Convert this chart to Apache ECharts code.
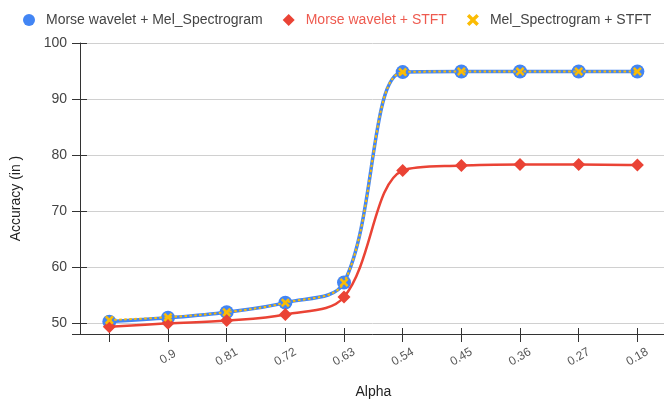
<!DOCTYPE html>
<html>
<head>
<meta charset="utf-8">
<script src="https://cdn.jsdelivr.net/npm/echarts@6/dist/echarts.min.js"></script>
<style>
  html, body { margin: 0; padding: 0; background: #fff; }
  #chart { width: 664px; height: 400px; }
</style>
</head>
<body>
<div id="chart"></div>
<script>
// Alpha values on the x axis (first position has no label)
const alphaLabels = ['', '0.9', '0.81', '0.72', '0.63', '0.54', '0.45', '0.36', '0.27', '0.18'];

// Accuracy for each feature combination
const morseMel  = [50.2, 50.9, 51.9, 53.6, 57.2, 94.8, 94.9, 94.9, 94.9, 94.9];
const morseStft = [49.3, 49.9, 50.4, 51.5, 54.6, 77.2, 78.1, 78.3, 78.3, 78.2];
const melStft   = [50.5, 51.0, 51.9, 53.6, 57.2, 94.8, 94.9, 94.9, 94.9, 94.9];

const seriesNames = ['Morse wavelet + Mel_Spectrogram', 'Morse wavelet + STFT', 'Mel_Spectrogram + STFT'];

const BLUE = '#4285F4', RED = '#EA4335', ORANGE = '#FBBC04';
const crossPath = 'path://M0,2L2,0L5,3L8,0L10,2L7,5L10,8L8,10L5,7L2,10L0,8L3,5Z';
const diamondPath = 'path://M5,0L10,5L5,10L0,5Z';
const FONT = 'Arial, "Liberation Sans", sans-serif';
const AXIS_COLOR = '#333';
const SMOOTH = 0.35;

const chart = echarts.init(document.getElementById('chart'), null, { renderer: 'canvas' });

chart.setOption({
  animation: false,
  textStyle: { fontFamily: FONT },
  legend: {
    left: 18,
    top: 8,
    itemGap: 20,
    itemWidth: 24,
    itemHeight: 12,
    textStyle: { fontSize: 14, color: '#444', fontFamily: FONT },
    data: [
      { name: seriesNames[0], icon: 'circle' },
      { name: seriesNames[1], icon: diamondPath, textStyle: { color: '#EE5A4F' } },
      { name: seriesNames[2], icon: crossPath }
    ]
  },
  grid: { left: 80, top: 43, width: 586.7, bottom: 66, containLabel: false, outerBoundsMode: 'none' },
  xAxis: [
    {
      type: 'category',
      data: alphaLabels,
      boundaryGap: true,
      position: 'bottom',
      name: 'Alpha',
      nameLocation: 'middle',
      nameGap: 51,
      nameTextStyle: { fontSize: 14, color: '#222', fontFamily: FONT },
      axisLine: { show: true, lineStyle: { color: AXIS_COLOR, width: 1 } },
      axisTick: { show: true, alignWithLabel: true, interval: 0, length: 8, lineStyle: { color: AXIS_COLOR } },
      axisLabel: {
        rotate: 30,
        align: 'center',
        verticalAlign: 'middle',
        margin: 23,
        fontSize: 12,
        color: '#555',
        fontFamily: FONT,
        interval: 0
      },
      splitLine: { show: false }
    },
    {
      // inner half of the x ticks, so they cross the axis line
      type: 'category',
      data: alphaLabels,
      boundaryGap: true,
      position: 'bottom',
      axisLine: { show: false },
      axisTick: { show: true, inside: true, alignWithLabel: true, interval: 0, length: 6, lineStyle: { color: AXIS_COLOR } },
      axisLabel: { show: false },
      splitLine: { show: false }
    }
  ],
  yAxis: [
    {
      type: 'value',
      min: 48,
      max: 100,
      splitNumber: 5,
      position: 'left',
      name: 'Accuracy (in )',
      nameLocation: 'middle',
      nameGap: 57,
      nameTextStyle: { fontSize: 14, color: '#222', fontFamily: FONT, padding: [0, 20, 0, 0] },
      axisLine: { show: true, lineStyle: { color: AXIS_COLOR, width: 1 } },
      axisTick: { show: true, length: 8, lineStyle: { color: AXIS_COLOR } },
      axisLabel: {
        margin: 13,
        fontSize: 14,
        color: '#444',
        fontFamily: FONT,
        formatter: v => (v % 10 === 0 ? String(v) : '')
      },
      splitLine: { show: true, lineStyle: { color: '#d0d0d0', width: 1 } }
    },
    {
      // inner half of the y ticks
      type: 'value',
      min: 48,
      max: 100,
      splitNumber: 5,
      position: 'left',
      axisLine: { show: false },
      axisTick: { show: true, inside: true, length: 7, lineStyle: { color: AXIS_COLOR } },
      axisLabel: { show: false },
      splitLine: { show: false }
    }
  ],
  series: [
    {
      name: seriesNames[0],
      type: 'line',
      data: morseMel,
      smooth: SMOOTH,
      symbol: 'circle',
      symbolSize: 14,
      itemStyle: { color: BLUE },
      lineStyle: { color: BLUE, width: 3.5 },
      z: 2
    },
    {
      name: seriesNames[1],
      type: 'line',
      data: morseStft,
      smooth: SMOOTH,
      symbol: diamondPath,
      symbolSize: 13,
      itemStyle: { color: RED },
      lineStyle: { color: RED, width: 2.5 },
      z: 3
    },
    {
      name: seriesNames[2],
      type: 'line',
      data: melStft,
      smooth: SMOOTH,
      symbol: crossPath,
      symbolSize: 9,
      itemStyle: { color: ORANGE },
      lineStyle: { color: ORANGE, width: 2, type: [2.5, 2.5] },
      z: 4
    }
  ]
});
</script>
</body>
</html>
